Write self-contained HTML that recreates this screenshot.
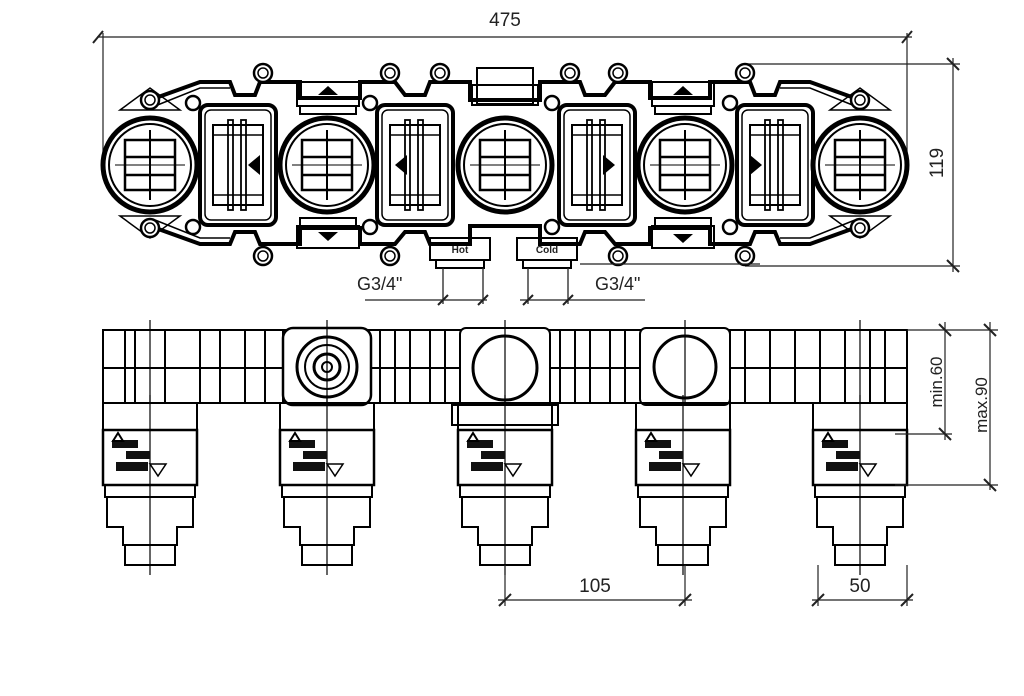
<!DOCTYPE html>
<html><head><meta charset="utf-8"><style>
html,body{margin:0;padding:0;background:#fff}
svg{display:block}
text{font-family:"Liberation Sans",sans-serif;fill:#222}
</style></head><body>
<svg width="1024" height="696" viewBox="0 0 1024 696" xmlns="http://www.w3.org/2000/svg">
<defs>
<g id="circ">
  <circle r="47" fill="none" stroke="#000" stroke-width="5"/>
  <circle r="41" fill="none" stroke="#000" stroke-width="2"/>
  <rect x="-25" y="-25" width="50" height="50" fill="none" stroke="#000" stroke-width="2.5"/>
  <line x1="-25" y1="-8" x2="25" y2="-8" stroke="#000" stroke-width="2.5"/>
  <line x1="-25" y1="10" x2="25" y2="10" stroke="#000" stroke-width="2.5"/>
  <line x1="0" y1="-35" x2="0" y2="35" stroke="#000" stroke-width="2"/>
  <line x1="-35" y1="0" x2="35" y2="0" stroke="#000" stroke-width="1"/>
</g>
<g id="valve">
  <rect x="-38" y="-60" width="76" height="120" rx="8" fill="none" stroke="#000" stroke-width="4"/>
  <rect x="-33" y="-55" width="66" height="110" rx="6" fill="none" stroke="#000" stroke-width="1.5"/>
  <rect x="-25" y="-40" width="50" height="80" fill="none" stroke="#000" stroke-width="2"/>
  <rect x="-10" y="-45" width="5" height="90" fill="none" stroke="#000" stroke-width="1.8"/>
  <rect x="3" y="-45" width="5" height="90" fill="none" stroke="#000" stroke-width="1.8"/>
  <line x1="-25" y1="-30" x2="25" y2="-30" stroke="#000" stroke-width="1.5"/>
  <line x1="-25" y1="30" x2="25" y2="30" stroke="#000" stroke-width="1.5"/>
  <circle cx="-45" cy="-62" r="7" fill="#fff" stroke="#000" stroke-width="2.5"/>
  <circle cx="-45" cy="62" r="7" fill="#fff" stroke="#000" stroke-width="2.5"/>
</g>
<g id="ear">
  <circle r="9" fill="#fff" stroke="#000" stroke-width="2.5"/>
  <circle r="5" fill="none" stroke="#000" stroke-width="1.5"/>
</g>
<g id="cart" fill="none" stroke="#000" stroke-width="2">
  <rect x="-47" y="403" width="94" height="27"/>
  <rect x="-47" y="430" width="94" height="55" stroke-width="2.5"/>
  <rect x="-45" y="485" width="90" height="12"/>
  <polyline points="-43,497 -43,527 -27,527 -27,545 -25,545 -25,565 25,565 25,545 27,545 27,527 43,527 43,497"/>
  <line x1="-25" y1="545" x2="25" y2="545"/>
  <line x1="0" y1="395" x2="0" y2="575" stroke-width="1.2"/>
  <rect x="-38" y="440" width="26" height="8" fill="#111" stroke="none"/>
  <rect x="-24" y="451" width="24" height="8" fill="#111" stroke="none"/>
  <rect x="-34" y="462" width="32" height="9" fill="#111" stroke="none"/>
  <polygon points="-37,441 -32,433 -27,441"/>
  <polygon points="0,464 16,464 8,476" stroke-width="1.5"/>
</g>
</defs>

<line x1="97" y1="37" x2="912" y2="37" stroke="#222" stroke-width="1.3"/>
<line x1="93" y1="43" x2="103" y2="31" stroke="#222" stroke-width="2"/>
<line x1="902" y1="43" x2="912" y2="31" stroke="#222" stroke-width="2"/>
<line x1="103" y1="33" x2="103" y2="165" stroke="#222" stroke-width="1.2"/>
<line x1="907" y1="33" x2="907" y2="165" stroke="#222" stroke-width="1.2"/>
<text x="505" y="26" font-size="19" text-anchor="middle">475</text>

<line x1="745" y1="64" x2="960" y2="64" stroke="#222" stroke-width="1.2"/>
<line x1="745" y1="266" x2="960" y2="266" stroke="#222" stroke-width="1.2"/>
<line x1="953" y1="58" x2="953" y2="272" stroke="#222" stroke-width="1.2"/>
<line x1="947" y1="58" x2="959" y2="70" stroke="#222" stroke-width="2"/>
<line x1="947" y1="260" x2="959" y2="272" stroke="#222" stroke-width="2"/>
<text transform="translate(943,163) rotate(-90)" font-size="19" text-anchor="middle">119</text>

<g fill="none" stroke="#000" stroke-width="4">
  <path d="M150,100 L200,82 L230,82 L235,95 L255,95 L260,82 L300,82 L300,98 L360,98 L360,82 L395,82 L405,95 L425,95 L430,82 L470,82 L470,100 L540,100 L540,82 L580,82 L585,95 L605,95 L615,82 L650,82 L650,98 L710,98 L710,82 L750,82 L755,95 L775,95 L780,82 L810,82 L860,100"/>
  <path d="M150,226 L200,244 L230,244 L235,232 L255,232 L260,244 L300,244 L300,228 L360,228 L360,244 L395,244 L405,232 L425,232 L430,244 L470,244 L470,226 L540,226 L540,244 L580,244 L585,232 L605,232 L615,244 L650,244 L650,228 L710,228 L710,244 L750,244 L755,232 L775,232 L780,244 L810,244 L860,226"/>
</g>
<g fill="none" stroke="#000" stroke-width="1.5">
  <path d="M155,106 L200,88 L230,88 M780,88 L810,88 L855,106"/>
  <path d="M155,220 L200,238 L230,238 M780,238 L810,238 L855,220"/>
  <polygon points="120,110 150,88 180,110"/>
  <polygon points="120,216 150,238 180,216"/>
  <polygon points="830,110 860,88 890,110"/>
  <polygon points="830,216 860,238 890,216"/>
</g>
<use href="#ear" x="150" y="100"/><use href="#ear" x="150" y="228"/>
<use href="#ear" x="860" y="100"/><use href="#ear" x="860" y="228"/>
<use href="#valve" x="238" y="165"/>
<use href="#valve" x="415" y="165"/>
<use href="#valve" x="597" y="165"/>
<use href="#valve" x="775" y="165"/>
<use href="#ear" x="263" y="73"/><use href="#ear" x="263" y="256"/>
<use href="#ear" x="390" y="73"/><use href="#ear" x="390" y="256"/>
<use href="#ear" x="440" y="73"/><use href="#ear" x="570" y="73"/>
<use href="#ear" x="618" y="73"/><use href="#ear" x="618" y="256"/>
<use href="#ear" x="745" y="73"/><use href="#ear" x="745" y="256"/>
<g fill="none" stroke="#000" stroke-width="2">
  <rect x="297" y="82" width="62" height="24"/><rect x="300" y="106" width="56" height="8"/>
  <rect x="297" y="226" width="62" height="22"/><rect x="300" y="218" width="56" height="8"/>
  <rect x="652" y="82" width="62" height="24"/><rect x="655" y="106" width="56" height="8"/>
  <rect x="652" y="226" width="62" height="22"/><rect x="655" y="218" width="56" height="8"/>
  <rect x="477" y="68" width="56" height="36"/><rect x="472" y="85" width="66" height="20"/>
  <rect x="430" y="238" width="60" height="22"/><rect x="436" y="260" width="48" height="8"/>
  <rect x="517" y="238" width="60" height="22"/><rect x="523" y="260" width="48" height="8"/>
</g>
<polygon points="318,95 338,95 328,86" fill="#000"/>
<polygon points="318,232 338,232 328,241" fill="#000"/>
<polygon points="673,95 693,95 683,86" fill="#000"/>
<polygon points="673,234 693,234 683,243" fill="#000"/>
<polygon points="260,155 260,175 248,165" fill="#000"/>
<polygon points="407,155 407,175 395,165" fill="#000"/>
<polygon points="603,155 603,175 615,165" fill="#000"/>
<polygon points="750,155 750,175 762,165" fill="#000"/>
<text x="460" y="253" font-size="10" font-weight="bold" text-anchor="middle">Hot</text>
<text x="547" y="253" font-size="10" font-weight="bold" text-anchor="middle">Cold</text>
<g>
  <use href="#circ" x="150" y="165"/>
  <use href="#circ" x="327" y="165"/>
  <use href="#circ" x="505" y="165"/>
  <use href="#circ" x="685" y="165"/>
  <use href="#circ" x="860" y="165"/>
</g>

<g stroke="#222" stroke-width="1.3">
  <line x1="443" y1="268" x2="443" y2="304"/><line x1="483" y1="268" x2="483" y2="304"/>
  <line x1="528" y1="268" x2="528" y2="304"/><line x1="568" y1="268" x2="568" y2="304"/>
  <line x1="365" y1="300" x2="487" y2="300"/>
  <line x1="520" y1="300" x2="645" y2="300"/>
  <line x1="580" y1="264" x2="760" y2="264"/>
</g>
<g stroke="#222" stroke-width="2">
  <line x1="438" y1="305" x2="448" y2="295"/><line x1="478" y1="305" x2="488" y2="295"/>
  <line x1="523" y1="305" x2="533" y2="295"/><line x1="563" y1="305" x2="573" y2="295"/>
</g>
<text x="357" y="290" font-size="18">G3/4"</text>
<text x="595" y="290" font-size="18">G3/4"</text>

<g fill="none" stroke="#000" stroke-width="2">
  <rect x="103" y="330" width="804" height="73"/>
  <line x1="103" y1="368" x2="907" y2="368"/>
  <path d="M125,330 V403 M135,330 V403 M165,330 V403 M200,330 V403 M220,330 V403 M245,330 V403 M265,330 V403 M283,330 V403 M380,330 V403 M395,330 V403 M410,330 V403 M430,330 V403 M445,330 V403 M560,330 V403 M575,330 V403 M590,330 V403 M610,330 V403 M625,330 V403 M730,330 V403 M745,330 V403 M770,330 V403 M795,330 V403 M820,330 V403 M845,330 V403 M870,330 V403 M885,330 V403"/>
  <rect x="283" y="328" width="88" height="77" rx="10" fill="#fff" stroke-width="2.5"/>
  <rect x="460" y="328" width="90" height="80" rx="6" fill="#fff" stroke-width="2"/>
  <rect x="640" y="328" width="90" height="77" rx="6" fill="#fff" stroke-width="2"/>
  <rect x="452" y="405" width="106" height="20" fill="#fff"/>
</g>
<circle cx="327" cy="367" r="30" fill="none" stroke="#000" stroke-width="3"/>
<circle cx="327" cy="367" r="22" fill="none" stroke="#000" stroke-width="2"/>
<circle cx="327" cy="367" r="13" fill="none" stroke="#000" stroke-width="3"/>
<circle cx="327" cy="367" r="5" fill="none" stroke="#000" stroke-width="2"/>
<circle cx="505" cy="368" r="32" fill="#fff" stroke="#000" stroke-width="3"/>
<circle cx="685" cy="367" r="31" fill="#fff" stroke="#000" stroke-width="3"/>
<use href="#cart" x="150"/>
<use href="#cart" x="327"/>
<use href="#cart" x="505"/>
<use href="#cart" x="683"/>
<use href="#cart" x="860"/>
<line x1="150" y1="320" x2="150" y2="403" stroke="#000" stroke-width="1.2"/>
<line x1="327" y1="320" x2="327" y2="403" stroke="#000" stroke-width="1.2"/>
<line x1="505" y1="320" x2="505" y2="403" stroke="#000" stroke-width="1.2"/>
<line x1="685" y1="320" x2="685" y2="403" stroke="#000" stroke-width="1.2"/>
<line x1="860" y1="320" x2="860" y2="403" stroke="#000" stroke-width="1.2"/>

<g stroke="#222" stroke-width="1.2">
  <line x1="907" y1="330" x2="998" y2="330"/>
  <line x1="895" y1="434" x2="952" y2="434"/>
  <line x1="895" y1="485" x2="998" y2="485"/>
  <line x1="945" y1="322" x2="945" y2="440"/>
  <line x1="990" y1="322" x2="990" y2="490"/>
</g>
<g stroke="#222" stroke-width="2">
  <line x1="939" y1="324" x2="951" y2="336"/><line x1="939" y1="428" x2="951" y2="440"/>
  <line x1="984" y1="324" x2="996" y2="336"/><line x1="984" y1="479" x2="996" y2="491"/>
</g>
<text transform="translate(942,382) rotate(-90)" font-size="17" text-anchor="middle">min.60</text>
<text transform="translate(987,405) rotate(-90)" font-size="17" text-anchor="middle">max.90</text>

<g stroke="#222" stroke-width="1.2">
  <line x1="505" y1="565" x2="505" y2="606"/><line x1="685" y1="565" x2="685" y2="606"/>
  <line x1="498" y1="600" x2="692" y2="600"/>
  <line x1="818" y1="565" x2="818" y2="606"/><line x1="907" y1="565" x2="907" y2="606"/>
  <line x1="812" y1="600" x2="913" y2="600"/>
</g>
<g stroke="#222" stroke-width="2">
  <line x1="499" y1="606" x2="511" y2="594"/><line x1="679" y1="606" x2="691" y2="594"/>
  <line x1="812" y1="606" x2="824" y2="594"/><line x1="901" y1="606" x2="913" y2="594"/>
</g>
<text x="595" y="592" font-size="19" text-anchor="middle">105</text>
<text x="860" y="592" font-size="19" text-anchor="middle">50</text>
</svg>
</body></html>
